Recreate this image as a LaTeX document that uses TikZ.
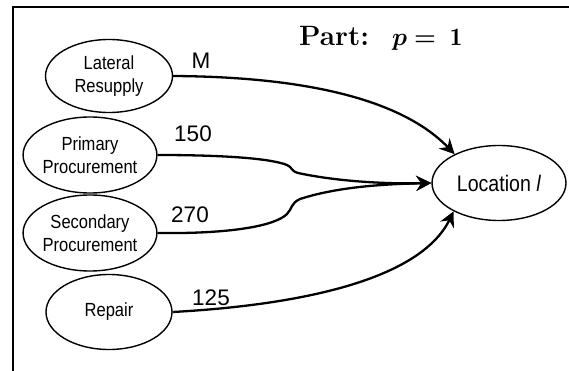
\RequirePackage{fix-cm}
\documentclass[tikz,border=0pt]{standalone}
\usepackage{amsmath}
\usepackage{bm}
\usepackage{fontspec}
\newfontfamily\arialf{Liberation Sans}
\newfontfamily\arialn[FakeStretch=0.87]{Liberation Sans}
\usetikzlibrary{shapes.geometric,arrows.meta}
\begin{document}
\begin{tikzpicture}[x=1pt,y=-1pt,
  src/.style={ellipse,draw,line width=1.4pt,inner sep=0pt,align=center,
    font=\arialn\fontsize{19}{23}\selectfont},
  lbl/.style={font=\arialf\fontsize{22.5}{24}\selectfont,inner sep=0pt},
  conn/.style={line width=2.3pt,-{Stealth[length=15pt,width=15pt,inset=5pt]}},
  frame/.style={line width=2pt}]
\useasboundingbox (0,0) rectangle (569,371);
% frame
\coordinate (fb) at (13,371);
\coordinate (ftl) at (13,7);
\coordinate (fr) at (569,7);
\draw[frame] (fb) -- (ftl) -- (fr);
% title
\node[anchor=base west,inner sep=0pt] (title) at (299,46)
  {\fontsize{28}{30}\selectfont\textbf{Part:}\hspace{23pt}\fontsize{25}{27}\selectfont$\bm{p} \bm{=}\;\mathbf{1}$};
% nodes
\node[src,minimum width=127pt,minimum height=73pt] (lr) at (109,76) {Lateral\\Resupply};
\node[src,minimum width=126pt,minimum height=76pt] (pp) at (90,155) {Primary\\Procurement};
\node[src,minimum width=126pt,minimum height=76pt] (sp) at (90,233) {Secondary\\Procurement};
\node[src,minimum width=126pt,minimum height=75pt] (rp) at (109,312) {Repair};
\node[src,minimum width=134pt,minimum height=75pt,font=\arialn\fontsize{22.5}{24}\selectfont] (loc) at (499,183) {Location \textit{l}};
% labels
\node[lbl] (lM) at (201,61) {M};
\node[lbl] (l150) at (193,134) {150};
\node[lbl] (l270) at (190,215) {270};
\node[lbl] (l125) at (211,298) {125};
% connectors
\draw[conn] (lr.east) .. controls (330,77) and (410,108) .. (loc.147);
\draw[conn] (pp.east) .. controls (230,155) and (272,159) .. (287,165)
  .. controls (292,167) and (291,171) .. (298,173)
  .. controls (340,182) and (390,184) .. (loc.west);
\draw[conn] (sp.east) .. controls (230,234) and (275,226) .. (287,214)
  .. controls (292,209) and (291,203) .. (300,199)
  .. controls (340,186) and (390,184) .. (loc.west);
\draw[conn] (rp.east) .. controls (300,305) and (420,280) .. (loc.212);
\end{tikzpicture}
\end{document}
